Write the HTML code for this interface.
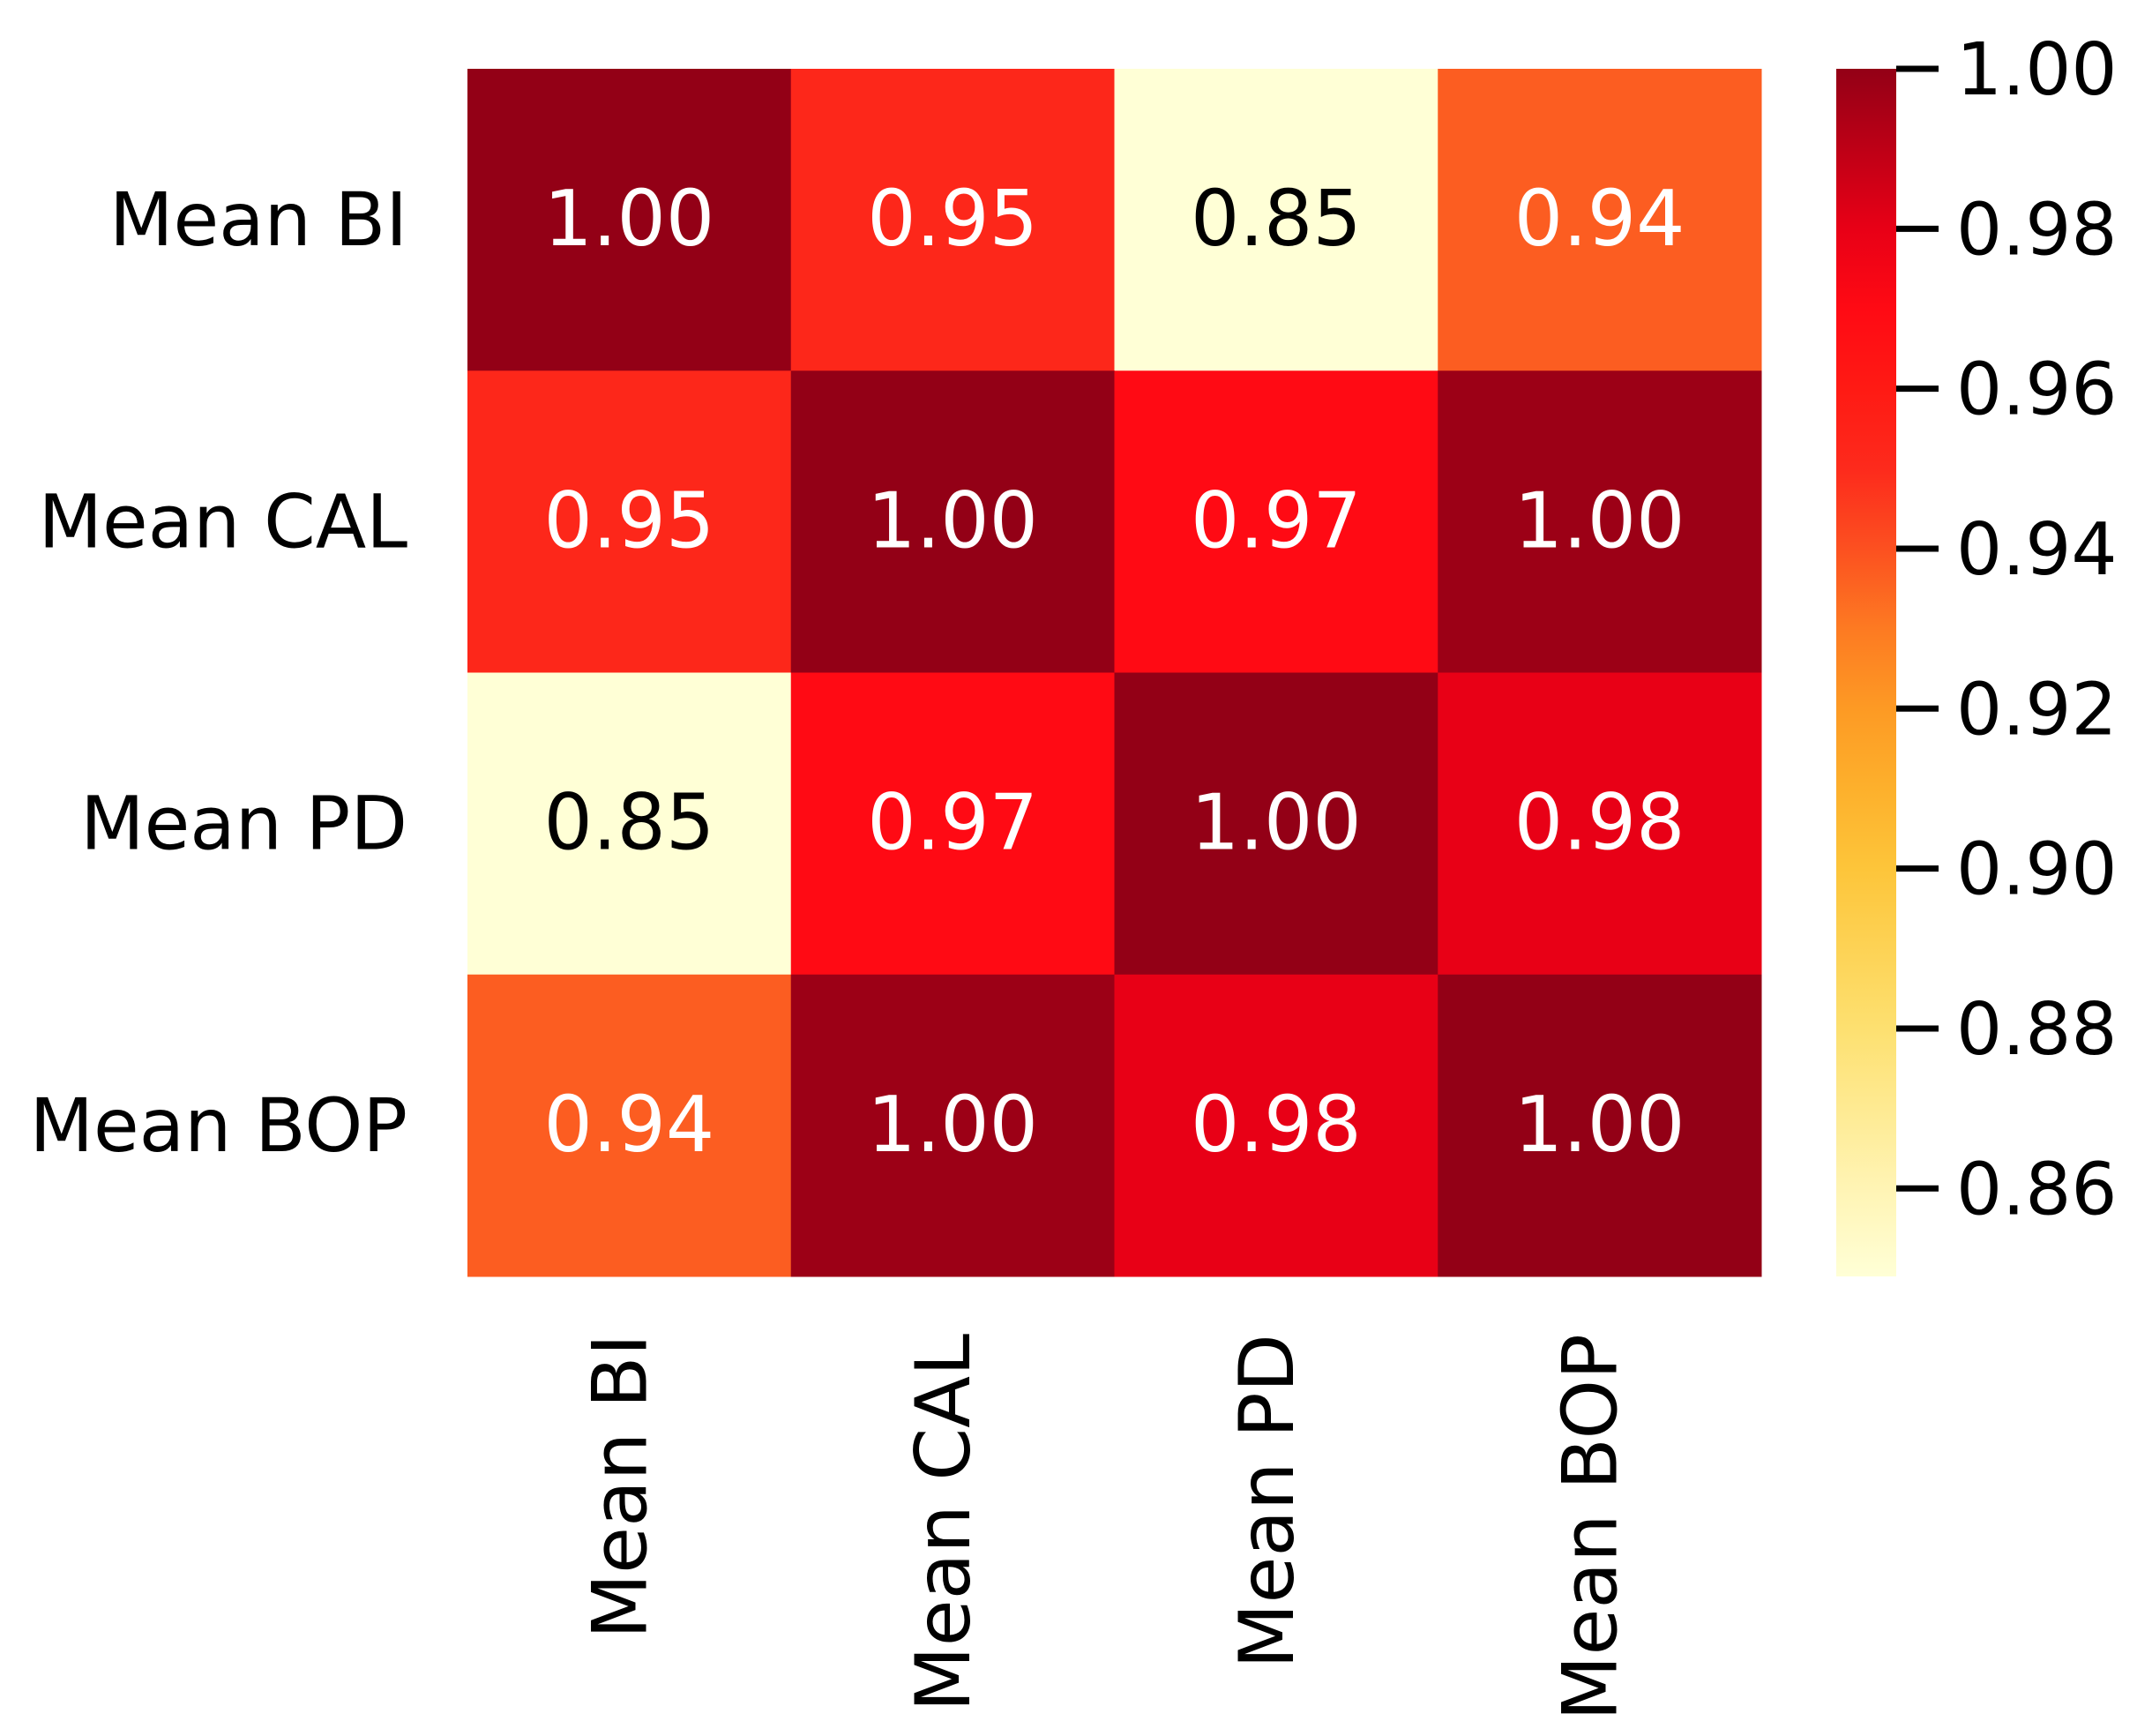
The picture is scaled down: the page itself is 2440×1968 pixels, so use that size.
<!DOCTYPE html>
<html><head><meta charset="utf-8">
<style>
html,body{margin:0;padding:0;background:#fff;}
svg{display:block;font-family:"DejaVu Sans","Liberation Sans",sans-serif;}
</style></head>
<body>
<svg id="chart" width="2440" height="1968" viewBox="0 0 2440 1968" xmlns="http://www.w3.org/2000/svg">
<defs>
<linearGradient id="cbgrad" x1="0" y1="1" x2="0" y2="0"></linearGradient>
</defs>
<g id="cells"></g>
<g id="ylabels"></g>
<g id="xlabels"></g>
<g id="colorbar"></g>
</svg>
<script>
const rowLabels = ["Mean BI","Mean CAL","Mean PD","Mean BOP"];
const colLabels = ["Mean BI","Mean CAL","Mean PD","Mean BOP"];
const matrix = [
  [1.00, 0.952, 0.849, 0.937],
  [0.952, 1.00, 0.970, 0.998],
  [0.849, 0.970, 1.00, 0.980],
  [0.937, 0.998, 0.980, 1.00]
];
const cbTicks = [1.00, 0.98, 0.96, 0.94, 0.92, 0.90, 0.88, 0.86];
const cbTickLabels = ["1.00","0.98","0.96","0.94","0.92","0.90","0.88","0.86"];
const vmin = 0.849, vmax = 1.0;

const NS = "http://www.w3.org/2000/svg";
const L = 530, T = 78, W = 1467, H = 1369;
const cw = W / colLabels.length, ch = H / rowLabels.length;
const CBX = 2082, CBW = 68, CBT = 78, CBH = 1369;

const stops = [
  [0.849,[255,255,214]],[0.86,[255,244,180]],[0.88,[253,224,112]],
  [0.90,[253,197,58]],[0.91,[253,176,44]],[0.92,[253,154,36]],
  [0.93,[253,122,34]],[0.94,[252,80,32]],[0.95,[253,42,28]],
  [0.96,[255,26,20]],[0.97,[255,10,20]],[0.98,[232,0,22]],[1.0,[147,0,22]]
];
function color(v){
  if(v<=stops[0][0]) return rgb(stops[0][1]);
  for(let i=1;i<stops.length;i++){
    if(v<=stops[i][0]){
      const a=stops[i-1],b=stops[i],t=(v-a[0])/(b[0]-a[0]);
      return rgb(a[1].map((c,k)=>Math.round(c+(b[1][k]-c)*t)));
    }
  }
  return rgb(stops[stops.length-1][1]);
}
function rgb(c){return "rgb("+c.join(",")+")";}
function xScale(j){return L + j*cw;}
function yScale(i){return T + i*ch;}
function cbY(v){return CBT + (vmax - v)/(vmax - vmin)*CBH;}
function mk(tag, attrs, parent){
  const e=document.createElementNS(NS,tag);
  for(const k in attrs) e.setAttribute(k,attrs[k]);
  parent.appendChild(e); return e;
}

const gc=document.getElementById("cells");
matrix.forEach((row,i)=>row.forEach((v,j)=>{
  const r=mk("rect",{x:xScale(j),y:yScale(i),width:cw+0.5,height:ch+0.5,fill:color(v)},gc);
  
  
  const t=mk("text",{x:xScale(j)+cw/2,y:yScale(i)+ch/2+29,"text-anchor":"middle","font-size":87,fill:(v<0.9?"#000":"#fff")},gc);
  
  
  t.textContent=v.toFixed(2);
}));

const gy=document.getElementById("ylabels");
rowLabels.forEach((lab,i)=>{
  const t=mk("text",{x:462,y:yScale(i)+ch/2+29,"text-anchor":"end","font-size":84,fill:"#000"},gy);
  
  
  t.textContent=lab;
});
const gx=document.getElementById("xlabels");
colLabels.forEach((lab,j)=>{
  const cx=xScale(j)+cw/2+19, cy=1512;
  const t=mk("text",{x:cx,y:cy,"text-anchor":"end","font-size":86,fill:"#000",transform:"rotate(-90 "+cx+" "+cy+")"},gx);
  
  
  t.textContent=lab;
});

const grad=document.getElementById("cbgrad");
stops.forEach(s=>{
  mk("stop",{offset:((s[0]-vmin)/(vmax-vmin)).toFixed(4),"stop-color":rgb(s[1])},grad);
});
const gcb=document.getElementById("colorbar");
const bar=mk("rect",{x:CBX,y:CBT,width:CBW,height:CBH,fill:"url(#cbgrad)"},gcb);


cbTicks.forEach((v,k)=>{
  const y=cbY(v);
  const tk=mk("line",{x1:CBX+CBW,x2:CBX+CBW+48,y1:y,y2:y,stroke:"#000","stroke-width":7},gcb);
  
  
  const t=mk("text",{x:2218,y:y+29,"font-size":82,fill:"#000"},gcb);
  
  
  t.textContent=cbTickLabels[k];
});
</script>
</body></html>
